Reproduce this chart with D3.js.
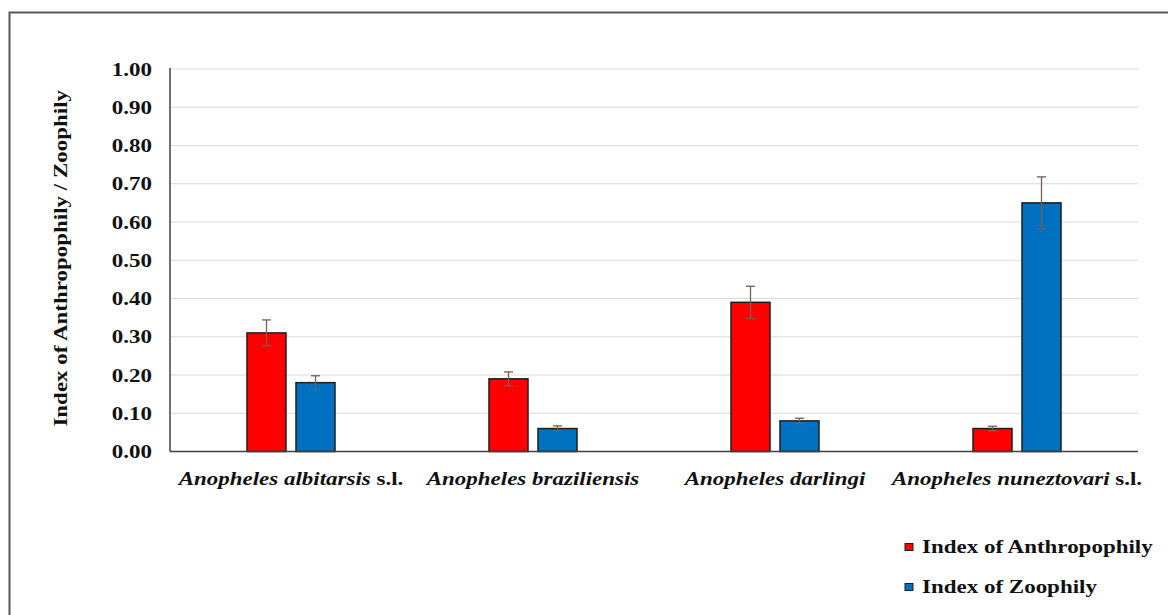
<!DOCTYPE html>
<html>
<head>
<meta charset="utf-8">
<script src="https://cdn.jsdelivr.net/npm/d3@7/dist/d3.min.js"></script>
<style>
  html, body { margin: 0; padding: 0; background: #fff; }
  svg { display: block; }
  text { font-family: "Liberation Serif", "Times New Roman", serif; font-weight: bold; fill: #111; }
</style>
</head>
<body>
<script>
// Species groups (italic name + optional upright suffix)
const species = ["Anopheles albitarsis", "Anopheles braziliensis", "Anopheles darlingi", "Anopheles nuneztovari"];
const speciesSuffix = [" s.l.", "", "", " s.l."];
const seriesNames = ["Index of Anthropophily", "Index of Zoophily"];
const anthropophily = [0.31, 0.19, 0.39, 0.06];
const anthropophilyErr = [0.034, 0.018, 0.042, 0.006];
const zoophily = [0.18, 0.06, 0.08, 0.65];
const zoophilyErr = [0.018, 0.007, 0.007, 0.068];
const yTicks = [0, 0.1, 0.2, 0.3, 0.4, 0.5, 0.6, 0.7, 0.8, 0.9, 1.0];
const colors = ["#FF0000", "#0070C0"];

const W = 1168, H = 615;
const plot = { left: 170, right: 1138, top: 69, bottom: 451.5 };
const FS = 19;          // base font size
const SX = 1.21;        // horizontal widening of the bold serif lettering

const svg = d3.select("body").append("svg").attr("width", W).attr("height", H);

// outer frame
svg.append("rect").attr("x", 9.5).attr("y", 12.5).attr("width", W + 10).attr("height", H + 10)
  .attr("fill", "none").attr("stroke", "#555").attr("stroke-width", 2);

const x0 = d3.scaleBand().domain(species).range([plot.left, plot.right]).padding(0);
const x1 = d3.scaleBand().domain(seriesNames).range([0, x0.bandwidth()]).paddingInner(0.204).paddingOuter(1.571);
const y = d3.scaleLinear().domain([0, 1]).range([plot.bottom, plot.top]);

// gridlines
svg.append("g").selectAll("line").data(yTicks.slice(1)).join("line")
  .attr("x1", plot.left).attr("x2", plot.right)
  .attr("y1", d => y(d)).attr("y2", d => y(d))
  .attr("stroke", "#d9d9d9").attr("stroke-width", 1.2);

// y axis labels
const yAxis = d3.axisLeft(y).tickValues(yTicks).tickFormat(d3.format(".2f")).tickSize(0).tickPadding(18);
const gy = svg.append("g").attr("transform", `translate(${plot.left},0)`).call(yAxis);
gy.select(".domain").remove();
gy.selectAll("text")
  .attr("x", 0)
  .attr("transform", `translate(-18,0) scale(${SX},1)`)
  .attr("font-size", FS).attr("font-family", "Liberation Serif").attr("font-weight", "bold").attr("fill", "#111");

// bars
const rows = species.map((s, i) => ({
  s, i,
  vals: [
    { name: seriesNames[0], v: anthropophily[i], e: anthropophilyErr[i], c: colors[0] },
    { name: seriesNames[1], v: zoophily[i], e: zoophilyErr[i], c: colors[1] }
  ]
}));

const groups = svg.append("g").selectAll("g").data(rows).join("g")
  .attr("transform", d => `translate(${x0(d.s)},0)`);

groups.selectAll("rect").data(d => d.vals).join("rect")
  .attr("x", d => x1(d.name))
  .attr("width", x1.bandwidth())
  .attr("y", d => y(d.v))
  .attr("height", d => y(0) - y(d.v))
  .attr("fill", d => d.c)
  .attr("stroke", "#1e1e1e").attr("stroke-width", 1.5);

// error bars
const eb = groups.selectAll("g.err").data(d => d.vals).join("g").attr("class", "err")
  .attr("stroke", "#6e6259").attr("stroke-width", 1.3);
const cx = d => x1(d.name) + x1.bandwidth() / 2;
eb.append("line")
  .attr("x1", cx).attr("x2", cx)
  .attr("y1", d => y(d.v + d.e)).attr("y2", d => y(d.v - d.e));
eb.append("line")
  .attr("x1", d => cx(d) - 4.5).attr("x2", d => cx(d) + 4.5)
  .attr("y1", d => y(d.v + d.e)).attr("y2", d => y(d.v + d.e));
eb.append("line")
  .attr("x1", d => cx(d) - 4.5).attr("x2", d => cx(d) + 4.5)
  .attr("y1", d => y(d.v - d.e)).attr("y2", d => y(d.v - d.e));

// axis lines
svg.append("line").attr("x1", plot.left).attr("x2", plot.left).attr("y1", plot.top - 1).attr("y2", plot.bottom)
  .attr("stroke", "#404040").attr("stroke-width", 1.5);
svg.append("line").attr("x1", plot.left).attr("x2", plot.right).attr("y1", plot.bottom).attr("y2", plot.bottom)
  .attr("stroke", "#404040").attr("stroke-width", 1.5);

// category labels
const cat = svg.append("g").selectAll("text").data(species).join("text")
  .attr("transform", d => `translate(${x0(d) + x0.bandwidth() / 2},485) scale(${SX},1)`)
  .attr("text-anchor", "middle")
  .attr("font-size", FS);
cat.append("tspan").attr("font-style", "italic").text(d => d);
cat.append("tspan").text((d, i) => speciesSuffix[i]);

// y axis title
svg.append("text")
  .attr("transform", `translate(67,${(plot.top + plot.bottom) / 2 - 2}) rotate(-90) scale(${SX},1)`)
  .attr("text-anchor", "middle")
  .attr("font-size", FS)
  .text("Index of Anthropophily / Zoophily");

// legend
const leg = svg.append("g").selectAll("g").data(seriesNames).join("g")
  .attr("transform", (d, i) => `translate(905,${547 + i * 40})`);
leg.append("rect").attr("x", 0).attr("y", -3.5).attr("width", 8).attr("height", 7)
  .attr("fill", (d, i) => colors[i]).attr("stroke", "#1e1e1e").attr("stroke-width", 1);
leg.append("text").attr("transform", `translate(17,6) scale(${SX},1)`).attr("font-size", FS).text(d => d);
</script>
</body>
</html>
